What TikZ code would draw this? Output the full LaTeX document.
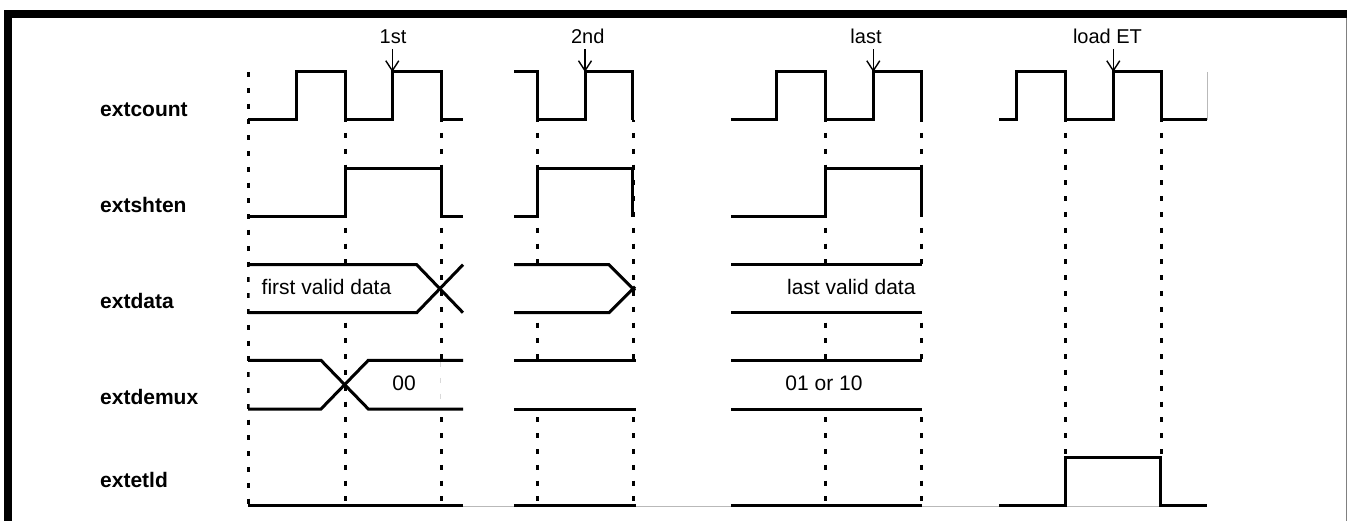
\documentclass[tikz,border=0pt]{standalone}
\usepackage{fontspec}
\setmainfont{Liberation Sans}
\usetikzlibrary{arrows.meta}
\begin{document}
\begin{tikzpicture}[x=1pt,y=-1pt,
  sig/.style={line width=3pt, line join=miter, line cap=butt},
  guide/.style={line width=3pt, dash pattern=on 5pt off 10.8pt, dash phase=-13pt},
  lab/.style={anchor=base west, inner sep=0pt, font=\fontsize{21pt}{25pt}\selectfont\bfseries},
  val/.style={anchor=base, inner sep=0pt, font=\fontsize{21pt}{25pt}\selectfont},
  evlab/.style={anchor=base, inner sep=0pt, font=\fontsize{20pt}{24pt}\selectfont},
  evarrow/.style={line width=1.4pt, shorten <=5pt, -{Straight Barb[length=10pt,width=13pt]}},
  busfill/.style={fill=white},
  faint/.style={gray!55, line width=0.8pt}]
\useasboundingbox (0,0) rectangle (1347,521);
% frame
\fill[black] (4,10) rectangle (1347,18);
\fill[black] (4,10) rectangle (12,521);
\draw[gray, line width=1pt] (1346,18) -- (1346,521);
% faint baseline
\draw[faint] (248,506) -- (1207,506);
% guide lines
\draw[guide, dash phase=0pt] (248,72) -- (248,505);
\foreach \x/\yb in {345/505, 441/505, 537/505, 633/505, 825/505, 921/505, 1065/457, 1161/457}
  \draw[guide] (\x,120) -- (\x,\yb);
% white bus areas
\fill[busfill] (249.5,264.7) -- (416.7,264.7) -- (440,288.7) -- (416.7,312.7) -- (249.5,312.7) -- cycle;
\fill[busfill] (249.5,360.3) -- (321,360.3) -- (344.7,384.7) -- (321,409) -- (249.5,409) -- cycle;
\fill[busfill] (463,360.3) -- (368.3,360.3) -- (344.7,384.7) -- (368.3,409) -- (463,409) -- cycle;
\draw[gray!30, line width=1pt, dash pattern=on 5pt off 10.8pt] (440,362) -- (440,407);
\fill[busfill] (514,264.7) -- (609,264.7) -- (633,288.7) -- (609,312.7) -- (514,312.7) -- cycle;
\fill[busfill] (514,360.3) rectangle (636,409);
\fill[busfill] (731,264.7) rectangle (923.5,312.7);
\fill[busfill] (731,360.3) rectangle (923.5,409);
% row labels
\node[lab] (Lcount) at (100,117) {extcount};
\node[lab] (Lshten) at (100,212.3) {extshten};
\node[lab] (Ldata) at (100,308.3) {extdata};
\node[lab] (Ldemux) at (100,404) {extdemux};
\node[lab] (Letld) at (100,487.3) {extetld};
% extcount
\draw[sig] (248,120) -- (296.7,120) -- (296.7,72) -- (345,72) -- (345,120) -- (392.3,120) -- (392.3,72) -- (441,72) -- (441,120) -- (463,120);
\draw[sig] (514,72) -- (537,72) -- (537,120) -- (585,120) -- (585,72) -- (632.7,72) -- (632.7,120);
\draw[sig] (731,120) -- (776,120) -- (776,72) -- (825,72) -- (825,120) -- (873.3,120) -- (873.3,72) -- (921,72) -- (921,120);
\draw[sig] (999,120) -- (1016.7,120) -- (1016.7,72) -- (1065,72) -- (1065,120) -- (1113.3,120) -- (1113.3,72) -- (1161,72) -- (1161,120) -- (1207,120);
\draw[faint] (1207,72) -- (1207,120);
% extshten
\draw[sig] (248,216.7) -- (345,216.7) -- (345,168.7) -- (441,168.7) -- (441,216.7) -- (463,216.7);
\draw[sig] (514,216.7) -- (537,216.7) -- (537,168.7) -- (632.7,168.7) -- (632.7,216.7);
\draw[sig] (731,216.7) -- (825,216.7) -- (825,168.7) -- (921,168.7) -- (921,216.7);
% extdata
\draw[sig] (248,264.7) -- (416.7,264.7) -- (463,312.7);
\draw[sig] (248,312.7) -- (416.7,312.7) -- (463,264.7);
\draw[sig] (514,264.7) -- (609,264.7) -- (635,290.7);
\draw[sig] (514,312.7) -- (609,312.7) -- (635,286.7);
\draw[sig] (731,264.7) -- (922,264.7);
\draw[sig] (731,312.7) -- (922,312.7);
% extdemux
\draw[sig] (248,360.3) -- (321,360.3) -- (368.3,409) -- (463,409);
\draw[sig] (248,409) -- (321,409) -- (368.3,360.3) -- (463,360.3);
\draw[sig] (514,360.3) -- (636,360.3);
\draw[sig] (514,409) -- (636,409);
\draw[sig] (731,360.3) -- (922,360.3);
\draw[sig] (731,409) -- (922,409);
% extetld
\draw[sig] (248,505.3) -- (463,505.3);
\draw[sig] (514,505.3) -- (636,505.3);
\draw[sig] (731,505.3) -- (922,505.3);
\draw[sig] (999,505.3) -- (1065.5,505.3) -- (1065.5,457) -- (1160.5,457) -- (1160.5,505.3) -- (1207,505.3);
% bus values
\node[val] (Vfirst) at (326.5,294.3) {first valid data};
\node[val] (Vzero) at (404,390) {00};
\node[val] (Vlast) at (851.3,294.3) {last valid data};
\node[val] (Vsel) at (824,390) {01 or 10};
% event labels and arrows
\node[evlab] (E1) at (393,43.5) {1st};
\node[evlab] (E2) at (587.7,44) {2nd};
\node[evlab] (E3) at (866,44) {last};
\node[evlab] (E4) at (1107.5,44) {load ET};
\coordinate (T1) at (392.3,72);
\coordinate (T2) at (585,72);
\coordinate (T3) at (873.3,72);
\coordinate (T4) at (1113.3,72);
\draw[evarrow] (E1.south -| T1) -- (T1);
\draw[evarrow] (E2.south -| T2) -- (T2);
\draw[evarrow] (E3.south -| T3) -- (T3);
\draw[evarrow] (E4.south -| T4) -- (T4);
\end{tikzpicture}
\end{document}
